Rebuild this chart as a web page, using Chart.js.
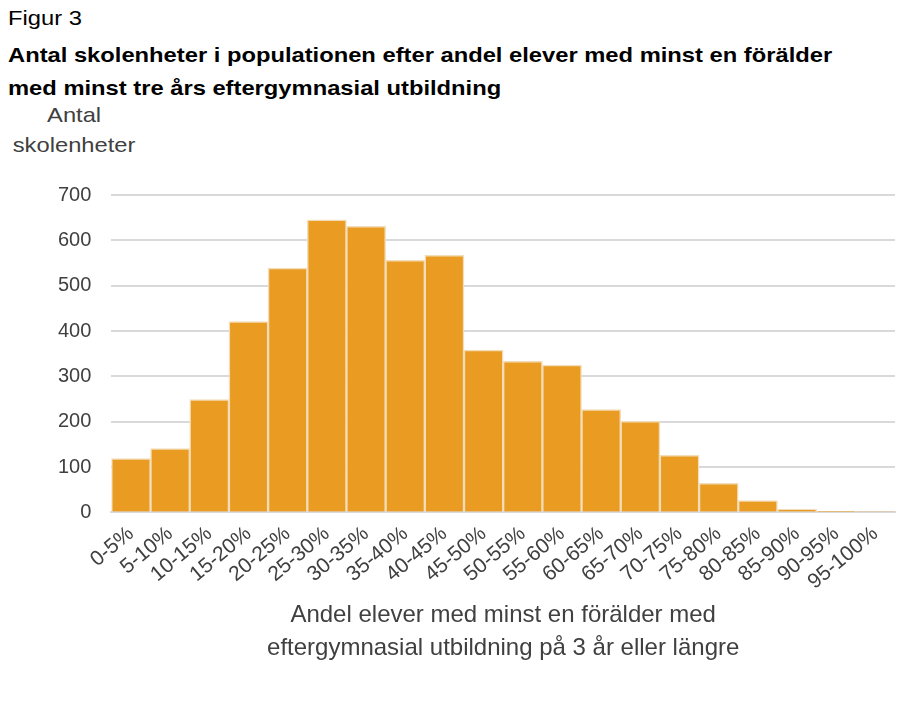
<!DOCTYPE html>
<html>
<head>
<meta charset="utf-8">
<script src="https://cdn.jsdelivr.net/npm/chart.js@4/dist/chart.umd.min.js"></script>
<style>
  body { margin: 0; background: #fff; font-family: "Liberation Sans", Arial, sans-serif; }
  #wrap { position: relative; width: 900px; height: 719px; }
  .stretch { transform: scaleX(1.13); transform-origin: left top; white-space: nowrap; }
  #fig { position: absolute; left: 8px; top: 6px; font-size: 21px; color: #000; }
  #title { position: absolute; left: 8px; top: 38px; font-size: 21px; font-weight: bold; color: #000; line-height: 33px; }
  #ytitle { position: absolute; left: 8px; top: 100px; width: 117px; text-align: center; font-size: 21px; color: #404040; line-height: 30px; }
  #box { position: absolute; left: 0; top: 170px; width: 900px; height: 549px; }
</style>
</head>
<body>
<div id="wrap">
  <div id="fig" class="stretch">Figur 3</div>
  <div id="title" class="stretch">Antal skolenheter i populationen efter andel elever med minst en förälder<br>med minst tre års eftergymnasial utbildning</div>
  <div id="ytitle" class="stretch">Antal<br>skolenheter</div>
  <div id="box"><canvas id="myBar"></canvas></div>
</div>
<script>
let interval_labels = ["0-5%", "5-10%", "10-15%", "15-20%", "20-25%", "25-30%", "30-35%", "35-40%", "40-45%", "45-50%",
    "50-55%", "55-60%", "60-65%", "65-70%", "70-75%", "75-80%", "80-85%", "85-90%", "90-95%", "95-100%"];
let school_counts = [119, 141, 249, 421, 539, 645, 631, 556, 567, 358, 333, 325, 227, 201, 126, 64, 26, 7, 1, 2];
let x_title = ["Andel elever med minst en förälder med", "eftergymnasial utbildning på 3 år eller längre"];

let mybar = document.getElementById("myBar").getContext("2d");

new Chart(mybar, {
    type: "bar",
    data: {
        labels: interval_labels,
        datasets: [{
            backgroundColor: "#E99B22",
            borderColor: "#F3DDB8",
            borderWidth: 1.5,
            barPercentage: 1,
            categoryPercentage: 1,
            data: school_counts
        }]
    },
    options: {
        responsive: true,
        maintainAspectRatio: false,
        animation: false,
        layout: { padding: { top: 25, right: 5, bottom: 50, left: 38 } },
        plugins: {
            legend: { display: false },
            tooltip: { enabled: false }
        },
        scales: {
            x: {
                grid: { display: false },
                border: { color: "#d9d9d9", width: 2 },
                ticks: {
                    color: "#404040",
                    font: { family: "Liberation Sans", size: 21 },
                    minRotation: 40,
                    maxRotation: 40,
                    autoSkip: false,
                    padding: 1
                },
                title: {
                    display: true,
                    text: x_title,
                    color: "#404040",
                    font: { family: "Liberation Sans", size: 24, lineHeight: 1.38 },
                    padding: { top: 3 }
                },
                // let the rotated first label hang into the y-axis area
                afterFit: (scale) => { scale.paddingLeft = 0; scale.paddingRight = 0; }
            },
            y: {
                min: 0,
                max: 700,
                ticks: {
                    stepSize: 100,
                    color: "#404040",
                    font: { family: "Liberation Sans", size: 20 },
                    padding: 20
                },
                grid: { color: "#d9d9d9", lineWidth: 2, drawTicks: false },
                border: { display: false },
                afterFit: (scale) => { scale.paddingTop = 0; scale.paddingBottom = 0; }
            }
        }
    }
});
</script>
</body>
</html>
